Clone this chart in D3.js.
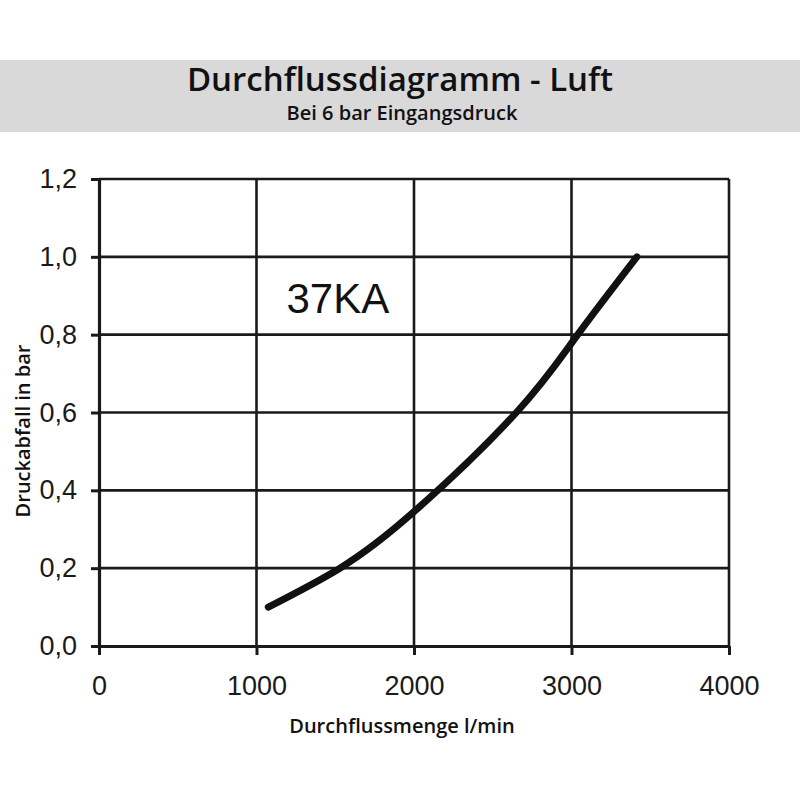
<!DOCTYPE html>
<html>
<head>
<meta charset="utf-8">
<script src="https://cdn.jsdelivr.net/npm/d3@7"></script>
<style>
  body { margin: 0; background: #fff; }
  svg { display: block; }
</style>
</head>
<body>
<div id="chart"></div>
<script>
// data
let flow = [1075, 1530, 2000, 2650, 3030, 3415];
let drop = [0.10, 0.20, 0.345, 0.60, 0.795, 1.00];
let xTicks = [0, 1000, 2000, 3000, 4000];
let yTicks = [0, 0.2, 0.4, 0.6, 0.8, 1.0, 1.2];
let yTickLabels = ["0,0", "0,2", "0,4", "0,6", "0,8", "1,0", "1,2"];
let curveLabel = "37KA";

let W = 800, H = 800;
let margin = { top: 179, left: 99, right: 71, bottom: 154 };
let width = W - margin.left - margin.right,
    height = H - margin.top - margin.bottom;

let svg = d3.select('#chart')
  .append('svg')
  .attr('width', W)
  .attr('height', H);

// title band
svg.append('rect')
  .attr('x', 0).attr('y', 60)
  .attr('width', W).attr('height', 72)
  .attr('fill', '#d9d9d9');
svg.append('text')
  .attr('x', 400).attr('y', 91)
  .attr('text-anchor', 'middle')
  .style('font-family', '"Open Sans", sans-serif')
  .style('font-weight', 600)
  .style('font-size', '33px')
  .attr('fill', '#111')
  .text('Durchflussdiagramm - Luft');
svg.append('text')
  .attr('x', 402).attr('y', 120)
  .attr('text-anchor', 'middle')
  .style('font-family', '"Open Sans", sans-serif')
  .style('font-weight', 600)
  .style('font-size', '20px')
  .attr('fill', '#111')
  .text('Bei 6 bar Eingangsdruck');

let g = svg.append('g')
  .attr('transform', 'translate(' + margin.left + ',' + margin.top + ')');

let x = d3.scaleLinear().domain([0, 4000]).range([0, width]);
let y = d3.scaleLinear().domain([0, 1.2]).range([height, 0]);

// grid
g.append('g').selectAll('line')
  .data(yTicks.slice(1))
  .enter().append('line')
  .attr('x1', 0).attr('x2', width)
  .attr('y1', d => y(d)).attr('y2', d => y(d))
  .attr('stroke', '#1a1a1a')
  .attr('stroke-width', 2.6);
g.append('g').selectAll('line')
  .data(xTicks.slice(1))
  .enter().append('line')
  .attr('x1', d => x(d)).attr('x2', d => x(d))
  .attr('y1', 0).attr('y2', height)
  .attr('stroke', '#1a1a1a')
  .attr('stroke-width', 2.6);

// axes
let xAxis = g.append('g')
  .attr('transform', 'translate(0,' + height + ')')
  .call(d3.axisBottom(x).tickValues(xTicks).tickFormat(d3.format('d'))
    .tickSize(9).tickSizeOuter(0).tickPadding(21));
let yAxis = g.append('g')
  .call(d3.axisLeft(y).tickValues(yTicks).tickFormat((d, i) => yTickLabels[i])
    .tickSize(8).tickSizeOuter(0).tickPadding(14));

[xAxis, yAxis].forEach(a => {
  a.select('.domain').attr('stroke', '#1a1a1a').attr('stroke-width', 3.2);
  a.selectAll('.tick line').attr('stroke', '#1a1a1a').attr('stroke-width', 3);
  a.selectAll('.tick text')
    .style('font-family', '"Liberation Sans", Arial, sans-serif')
    .style('font-size', '27px')
    .attr('fill', '#1a1a1a');
});

// curve
let pts = flow.map((f, i) => [f, drop[i]]);
g.append('path')
  .datum(pts)
  .attr('fill', 'none')
  .attr('stroke', '#111')
  .attr('stroke-width', 7)
  .attr('stroke-linecap', 'round')
  .attr('d', d3.line().x(d => x(d[0])).y(d => y(d[1])).curve(d3.curveNatural));

g.append('text')
  .attr('x', x(1190)).attr('y', y(0.855))
  .style('font-family', '"Liberation Sans", Arial, sans-serif')
  .style('font-size', '42px')
  .attr('fill', '#111')
  .text(curveLabel);

// axis titles
svg.append('text')
  .attr('transform', 'translate(30,431) rotate(-90)')
  .attr('text-anchor', 'middle')
  .style('font-family', '"Open Sans", sans-serif')
  .style('font-weight', 600)
  .style('font-size', '20px')
  .attr('fill', '#111')
  .text('Druckabfall in bar');
svg.append('text')
  .attr('x', 402).attr('y', 733)
  .attr('text-anchor', 'middle')
  .style('font-family', '"Open Sans", sans-serif')
  .style('font-weight', 600)
  .style('font-size', '20px')
  .attr('fill', '#111')
  .text('Durchflussmenge l/min');
</script>
</body>
</html>
